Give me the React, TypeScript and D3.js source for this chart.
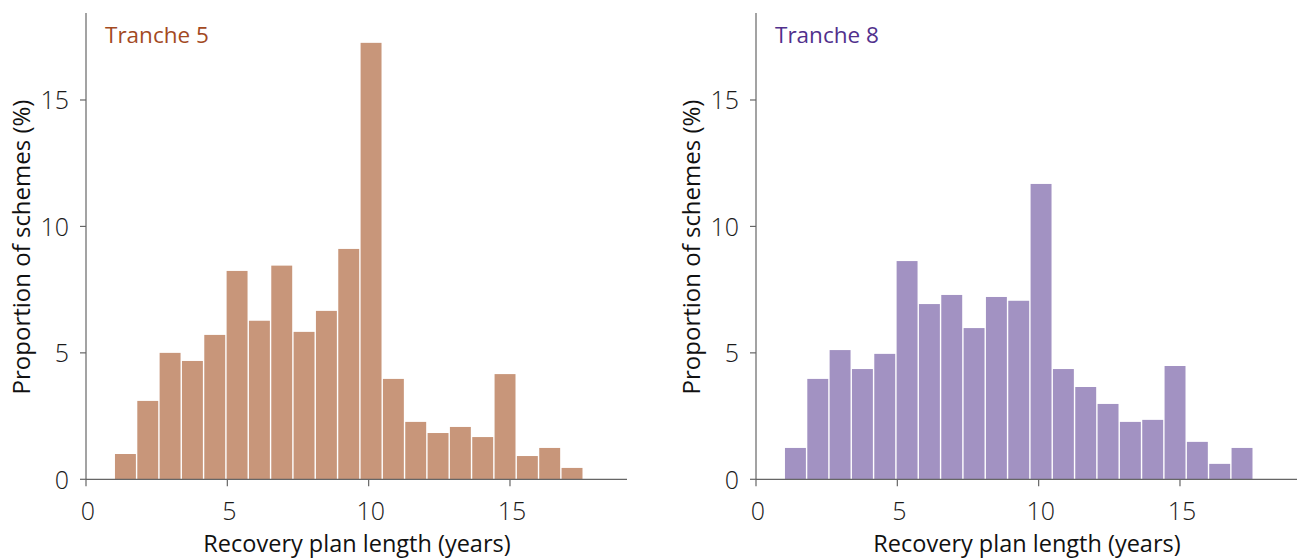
import React from "react";
import * as d3 from "d3";

const binEdges = [1, 1.79, 2.58, 3.37, 4.16, 4.95, 5.74, 6.53, 7.32, 8.11, 8.9, 9.69, 10.48, 11.27, 12.06, 12.85, 13.64, 14.43, 15.22, 16.01, 16.8, 17.59];
const tranche5 = [1.0, 3.1, 5.0, 4.68, 5.71, 8.24, 6.27, 8.45, 5.83, 6.66, 9.11, 17.26, 3.97, 2.27, 1.83, 2.07, 1.67, 4.16, 0.92, 1.24, 0.45];
const tranche8 = [1.24, 3.97, 5.11, 4.36, 4.96, 8.63, 6.93, 7.29, 5.98, 7.21, 7.06, 11.68, 4.36, 3.65, 2.98, 2.27, 2.35, 4.48, 1.48, 0.61, 1.24];
const xTicks = [0, 5, 10, 15];
const yTicks = [0, 5, 10, 15];

const panels = [
  { title: "Tranche 5", values: tranche5, fill: "#C8967A", titleColor: "#A34A1F", offset: 0 },
  { title: "Tranche 8", values: tranche8, fill: "#A292C2", titleColor: "#51308C", offset: 670 },
];

const FONT = "'Open Sans', Lato, sans-serif";

function Panel({ p }: { p: typeof panels[number] }) {
  const x = d3.scaleLinear().domain([0, 19.14]).range([86, 627]);
  const y = d3.scaleLinear().domain([0, 18.44]).range([479.3, 13]);
  return (
    <g transform={`translate(${p.offset},0)`}>
      {p.values.map((v, i) => (
        <rect
          key={i}
          x={x(binEdges[i]) + 0.7}
          width={x(binEdges[i + 1]) - x(binEdges[i]) - 1.4}
          y={y(v)}
          height={y(0) - y(v)}
          fill={p.fill}
        />
      ))}
      <line x1={x(0)} x2={x(19.14)} y1={y(0)} y2={y(0)} stroke="#666" strokeWidth={1.2} />
      <line x1={x(0)} x2={x(0)} y1={y(18.44)} y2={y(0)} stroke="#666" strokeWidth={1.2} />
      {yTicks.map((t) => (
        <g key={"y" + t}>
          <line x1={x(0) - 6} x2={x(0)} y1={y(t)} y2={y(t)} stroke="#666" strokeWidth={1.2} />
          <text x={x(0) - 17} y={y(t)} dy="0.38em" textAnchor="end" fontSize={25} fontWeight={300} fill="#1a1a1a" fontFamily={FONT}>
            {t}
          </text>
        </g>
      ))}
      {xTicks.map((t) => (
        <g key={"x" + t}>
          <line x1={x(t)} x2={x(t)} y1={y(0)} y2={y(0) + 7} stroke="#666" strokeWidth={1.2} />
          <text x={x(t) + 2} y={520} textAnchor="middle" fontSize={25} fontWeight={300} fill="#1a1a1a" fontFamily={FONT}>
            {t}
          </text>
        </g>
      ))}
      <text x={357} y={552} textAnchor="middle" fontSize={23.5} fill="#111" fontFamily={FONT}>
        Recovery plan length (years)
      </text>
      <text
        transform={`translate(20,247) rotate(-90)`}
        textAnchor="middle"
        dominantBaseline="central"
        fontSize={24}
        fill="#111"
        fontFamily={FONT}
      >
        Proportion of schemes (%)
      </text>
      <text x={105} y={43} fontSize={22.5} fill={p.titleColor} fontFamily={FONT}>
        {p.title}
      </text>
    </g>
  );
}

export default function App() {
  return (
    <svg width={1298} height={559} style={{ position: "absolute", left: 0, top: 0, background: "#fff" }}>
      {panels.map((p) => (
        <Panel key={p.title} p={p} />
      ))}
    </svg>
  );
}
